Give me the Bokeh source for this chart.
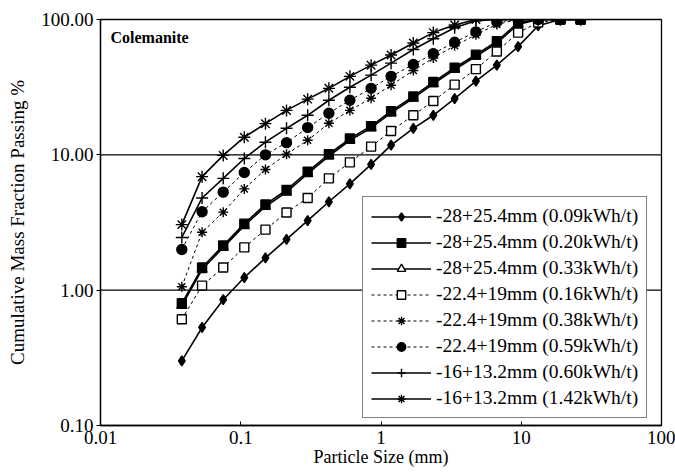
from bokeh.plotting import figure
from bokeh.models import FixedTicker, PrintfTickFormatter, Legend, LegendItem, Label, Span
from bokeh.embed import file_html
from bokeh.resources import INLINE

sizes = [0.038, 0.053, 0.075, 0.106, 0.15, 0.212, 0.3, 0.425, 0.6, 0.85,
         1.18, 1.7, 2.36, 3.35, 4.75, 6.7, 9.5, 13.2, 19, 26.5]

s_28_009 = [0.30, 0.53, 0.85, 1.24, 1.73, 2.37, 3.27, 4.5, 6.1, 8.5,
            11.8, 15.7, 19.6, 26, 35, 46, 63, 90, 100, 100]
s_28_020 = [0.80, 1.47, 2.14, 3.1, 4.3, 5.5, 7.5, 10.1, 13.2, 16.3,
            21, 27, 34.5, 44, 55, 69, 95, 100, 100, 100]
s_28_033 = [0.77, 1.42, 2.07, 3.0, 4.15, 5.3, 7.25, 9.8, 12.8, 15.8,
            20.4, 26.2, 33.5, 42.7, 53.5, 67, 92, 100, 100, 100]
s_22_016 = [0.61, 1.08, 1.47, 2.07, 2.8, 3.75, 4.8, 6.7, 8.8, 11.5,
            15, 19.6, 25, 33, 43, 58, 80, 95, 100, 100]
s_22_038 = [1.06, 2.68, 3.77, 5.6, 7.8, 10.1, 12.8, 17.1, 21.3, 26.2,
            32.7, 42, 52, 64, 77, 92, 100, 100, 100, 100]
s_22_059 = [2.0, 3.8, 5.3, 7.4, 10, 12.3, 15.9, 20.3, 25.3, 31,
            38, 46.5, 56, 68, 81, 96, 100, 100, 100, 100]
s_16_060 = [2.45, 4.8, 6.7, 9.4, 12.4, 15.7, 19.6, 25.3, 31.6, 38.8,
            47.6, 60, 72, 87, 98, 100, 100, 100, 100, 100]
s_16_142 = [3.05, 6.9, 9.9, 13.5, 17, 21.3, 25.8, 31, 38, 46,
            54.6, 67, 80, 91, 100, 100, 100, 100, 100, 100]

labels = ["-28+25.4mm (0.09kWh/t)", "-28+25.4mm (0.20kWh/t)", "-28+25.4mm (0.33kWh/t)",
          "-22.4+19mm (0.16kWh/t)", "-22.4+19mm (0.38kWh/t)", "-22.4+19mm (0.59kWh/t)",
          "-16+13.2mm (0.60kWh/t)", "-16+13.2mm (1.42kWh/t)"]
series = [s_28_009, s_28_020, s_28_033, s_22_016, s_22_038, s_22_059, s_16_060, s_16_142]
markers = ["diamond", "square", "triangle", "square", "asterisk", "circle", "cross", "asterisk"]
fills = ["black", "black", "white", "white", "black", "black", "black", "black"]
msize = [10, 9, 10, 9, 10, 10, 12, 12]
dashes = ["solid", "solid", "solid", "3 3", "3 3", "3 3", "solid", "solid"]

x_ticks = [0.01, 0.1, 1, 10, 100]
x_tick_labels = ["0.01", "0.1", "1", "10", "100"]
y_ticks = [0.1, 1, 10, 100]

FONT = "Liberation Serif"

p = figure(width=675, height=475, x_axis_type="log", y_axis_type="log",
           x_range=(0.01, 100), y_range=(0.1, 100),
           output_backend="svg", toolbar_location=None,
           min_border_left=100, min_border_right=14, min_border_top=19, min_border_bottom=50)

p.xgrid.visible = False
p.ygrid.visible = False
for v in [1, 10]:
    p.add_layout(Span(location=v, dimension="width", line_color="black", line_width=1.3))

p.outline_line_color = "black"
p.outline_line_width = 1.3

rends = {}
draw_order = [2, 0, 1, 3, 4, 5, 6, 7]
for i in draw_order:
    ys, mk, fc, ms, dsh = series[i], markers[i], fills[i], msize[i], dashes[i]
    lw = 1.6 if dsh == "solid" else 1.0
    r1 = p.line(sizes, ys, line_color="black", line_width=lw, line_dash=dsh)
    r2 = p.scatter(sizes, ys, marker=mk, size=ms, line_color="black", fill_color=fc, line_width=1.4)
    rends[i] = [r1, r2]

items = [LegendItem(label=labels[i], renderers=rends[i]) for i in range(len(labels))]

legend = Legend(items=items, location=(262, 7), border_line_color="black", border_line_width=1,
                background_fill_color="white", background_fill_alpha=1.0,
                label_text_font=FONT, label_text_font_size="19.5px", label_text_color="black",
                glyph_width=60, glyph_height=21, label_height=21, spacing=4,
                padding=8, margin=0, label_standoff=5)
p.add_layout(legend, "center")

p.xaxis.ticker = FixedTicker(ticks=x_ticks)
p.xaxis.major_label_overrides = {t: l for t, l in zip(x_ticks, x_tick_labels)}
p.yaxis.ticker = FixedTicker(ticks=y_ticks)
p.yaxis.formatter = PrintfTickFormatter(format="%.2f")

for ax in [p.xaxis[0], p.yaxis[0]]:
    ax.axis_line_color = "black"
    ax.axis_line_width = 1.3
    ax.major_tick_line_color = "black"
    ax.minor_tick_line_color = None
    ax.major_label_text_font = FONT
    ax.major_label_text_font_size = "19px"
    ax.major_label_text_color = "black"
    ax.axis_label_text_font = FONT
    ax.axis_label_text_font_style = "normal"
    ax.axis_label_text_color = "black"

p.xaxis.axis_label = "Particle Size (mm)"
p.yaxis.axis_label = "Cumulative Mass Fraction Passing %"
p.xaxis.axis_label_text_font_size = "18px"
p.yaxis.axis_label_text_font_size = "19px"
p.xaxis.major_tick_in = 4
p.xaxis.major_tick_out = 0
p.yaxis.major_tick_in = 0
p.yaxis.major_tick_out = 4
p.xaxis.major_label_standoff = 5
p.yaxis.major_label_standoff = 3
p.xaxis.axis_label_standoff = 0
p.yaxis.axis_label_standoff = 10

p.add_layout(Label(x=10, y=380, x_units="screen", y_units="screen", text="Colemanite",
                   text_font=FONT, text_font_size="16px", text_font_style="bold",
                   text_color="black"))

open("out.html", "w").write(file_html(p, INLINE))
